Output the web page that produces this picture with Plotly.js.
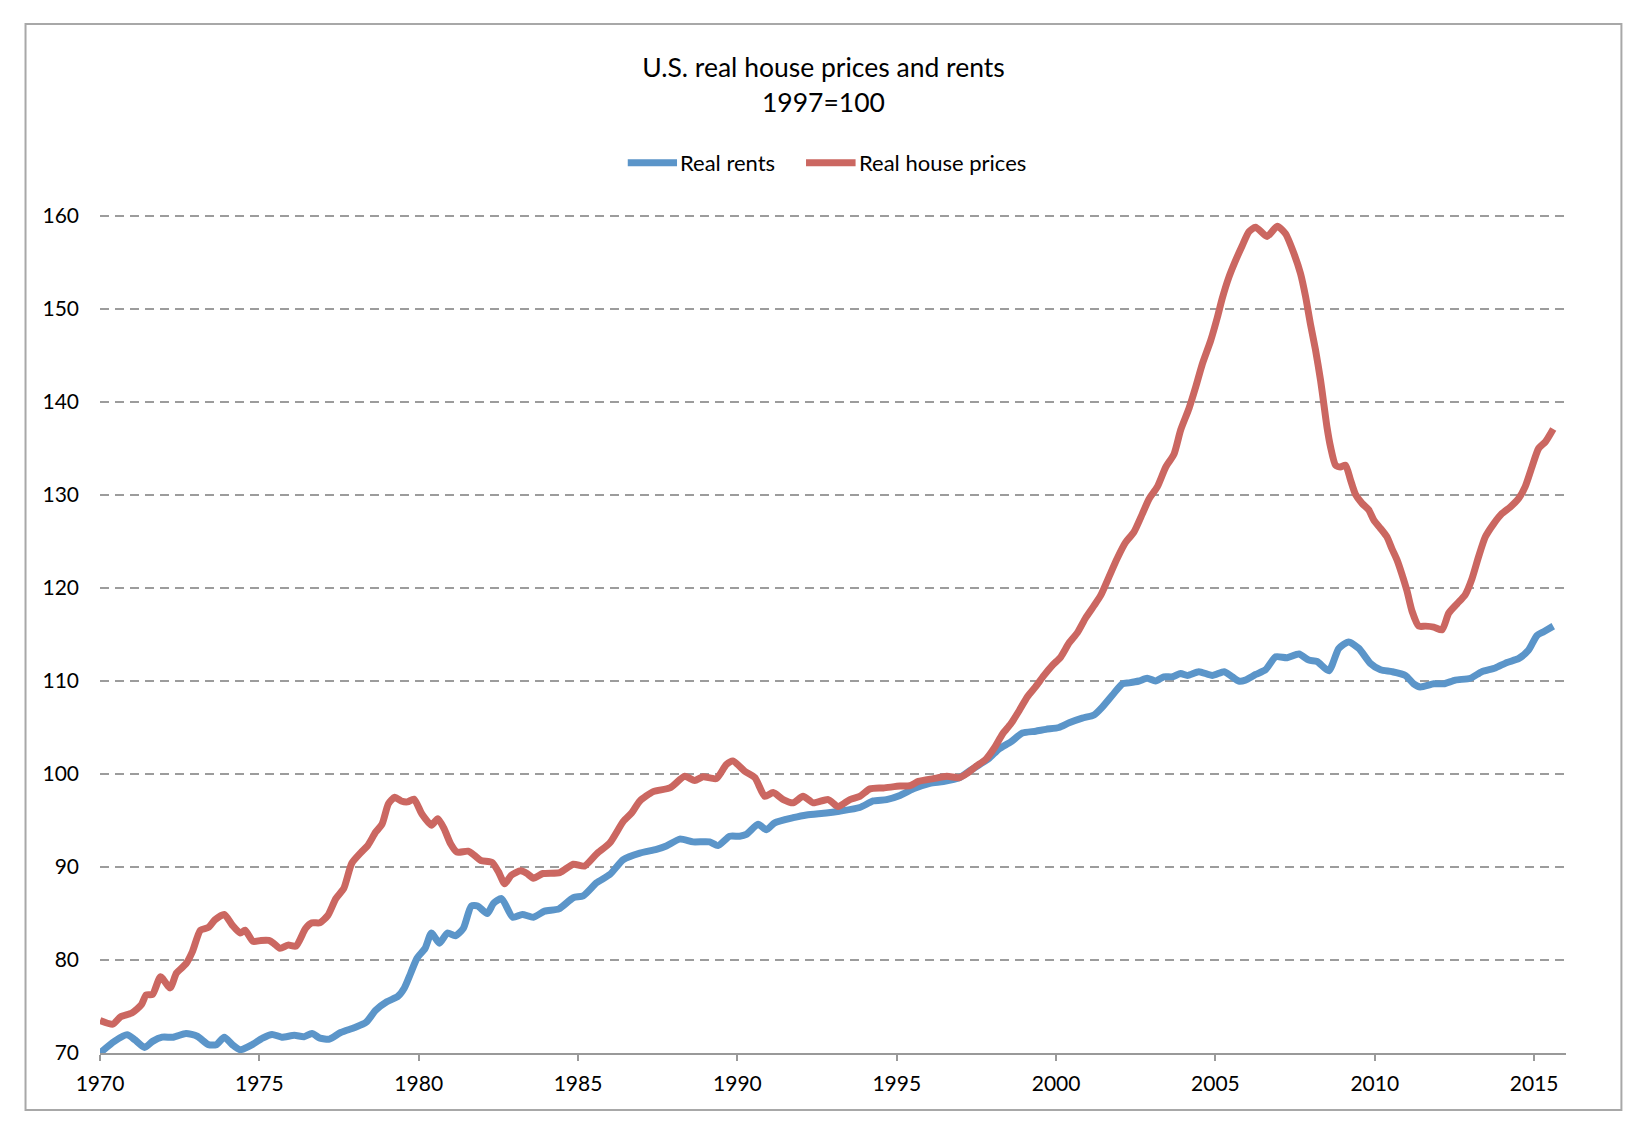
<!DOCTYPE html>
<html>
<head>
<meta charset="utf-8">
<script src="https://cdn.plot.ly/plotly-3.0.1.min.js"></script>
<style>
  html, body { margin: 0; padding: 0; background: #ffffff; }
  #chart { width: 1646px; height: 1128px; }
</style>
</head>
<body>
<div id="chart"></div>
<script>
// ---- Data ----
const xTickVals = [1970, 1975, 1980, 1985, 1990, 1995, 2000, 2005, 2010, 2015];
const xTickText = ["1970", "1975", "1980", "1985", "1990", "1995", "2000", "2005", "2010", "2015"];
const yMin = 70;
const yMax = 160;
const seriesNames = ["Real rents", "Real house prices"];
const seriesColors = ["#5b95c9", "#cb6761"];

const rentYears = [
  1970.00, 1970.45, 1970.85, 1971.10, 1971.40, 1971.65, 1971.95, 1972.30, 1972.70, 1973.05,
  1973.40, 1973.65, 1973.90, 1974.15, 1974.40, 1974.80, 1975.10, 1975.40, 1975.70, 1976.10,
  1976.40, 1976.65, 1976.90, 1977.20, 1977.55, 1978.00, 1978.35, 1978.65, 1979.00, 1979.35,
  1979.55, 1979.75, 1979.95, 1980.20, 1980.40, 1980.65, 1980.90, 1981.15, 1981.40, 1981.65,
  1981.85, 1982.15, 1982.35, 1982.60, 1982.95, 1983.25, 1983.60, 1983.95, 1984.40, 1984.85,
  1985.16, 1985.58, 1986.00, 1986.42, 1986.94, 1987.46, 1987.77, 1988.19, 1988.61, 1989.13,
  1989.39, 1989.76, 1990.07, 1990.28, 1990.65, 1990.91, 1991.17, 1991.75, 1992.17, 1992.79,
  1993.20, 1993.84, 1994.26, 1994.68, 1995.10, 1995.52, 1996.04, 1996.46, 1996.96, 1997.27,
  1997.59, 1997.90, 1998.21, 1998.58, 1998.94, 1999.36, 1999.68, 2000.09, 2000.41, 2000.82,
  2001.19, 2001.45, 2001.77, 2002.08, 2002.29, 2002.60, 2002.86, 2003.12, 2003.38, 2003.65,
  2003.91, 2004.12, 2004.48, 2004.90, 2005.27, 2005.47, 2005.73, 2005.94, 2006.26, 2006.57,
  2006.89, 2007.25, 2007.62, 2007.93, 2008.19, 2008.56, 2008.87, 2009.18, 2009.50, 2009.86,
  2010.18, 2010.54, 2010.96, 2011.22, 2011.43, 2011.85, 2012.16, 2012.53, 2013.00, 2013.36,
  2013.78, 2014.15, 2014.51, 2014.82, 2015.09, 2015.30, 2015.60
];
const rentValues = [
  70.0, 71.25, 71.95, 71.4, 70.6, 71.25, 71.7, 71.7, 72.1, 71.8,
  70.9, 70.9, 71.7, 70.9, 70.35, 70.95, 71.6, 72.0, 71.7, 71.9,
  71.75, 72.1, 71.6, 71.5, 72.2, 72.75, 73.3, 74.6, 75.5, 76.1,
  77.0, 78.6, 80.2, 81.25, 82.9, 81.8, 82.9, 82.6, 83.4, 85.8,
  85.8, 85.0, 86.1, 86.6, 84.6, 84.9, 84.6, 85.25, 85.5, 86.7,
  86.9, 88.3, 89.2, 90.8, 91.5, 91.9, 92.25, 93.0, 92.7, 92.7,
  92.3, 93.3, 93.3, 93.5, 94.6, 94.0, 94.75, 95.3, 95.6, 95.8,
  96.0, 96.4, 97.1, 97.25, 97.7, 98.4, 99.0, 99.2, 99.6, 100.3,
  101.0, 101.7, 102.7, 103.45, 104.4, 104.6, 104.8, 105.0, 105.5, 106.0,
  106.35, 107.2, 108.5, 109.7, 109.8, 110.0, 110.3, 110.0, 110.45, 110.45,
  110.8, 110.6, 111.0, 110.6, 111.0, 110.6, 110.0, 110.1, 110.7, 111.2,
  112.6, 112.5, 112.9, 112.25, 112.1, 111.1, 113.5, 114.2, 113.5, 111.9,
  111.2, 111.0, 110.6, 109.7, 109.35, 109.7, 109.7, 110.1, 110.3, 111.0,
  111.4, 112.0, 112.4, 113.3, 114.9, 115.3, 115.9
];

const priceYears = [
  1970.00, 1970.40, 1970.65, 1971.00, 1971.30, 1971.45, 1971.65, 1971.90, 1972.20, 1972.40,
  1972.70, 1972.90, 1973.15, 1973.40, 1973.60, 1973.90, 1974.15, 1974.40, 1974.55, 1974.80,
  1975.05, 1975.30, 1975.45, 1975.65, 1975.90, 1976.15, 1976.45, 1976.65, 1976.90, 1977.15,
  1977.40, 1977.65, 1977.90, 1978.20, 1978.40, 1978.65, 1978.85, 1979.05, 1979.25, 1979.45,
  1979.65, 1979.85, 1980.10, 1980.40, 1980.60, 1980.80, 1981.00, 1981.20, 1981.55, 1981.75,
  1981.95, 1982.30, 1982.50, 1982.70, 1982.90, 1983.20, 1983.40, 1983.60, 1983.90, 1984.43,
  1984.85, 1985.20, 1985.58, 1986.00, 1986.42, 1986.68, 1986.94, 1987.36, 1987.88, 1988.35,
  1988.66, 1988.92, 1989.34, 1989.65, 1989.86, 1990.23, 1990.55, 1990.86, 1991.12, 1991.44,
  1991.75, 1992.06, 1992.38, 1992.85, 1993.16, 1993.53, 1993.84, 1994.16, 1994.58, 1995.10,
  1995.42, 1995.68, 1996.15, 1996.57, 1996.96, 1997.22, 1997.48, 1997.80, 1998.06, 1998.32,
  1998.58, 1998.84, 1999.10, 1999.36, 1999.62, 1999.89, 2000.15, 2000.41, 2000.67, 2000.93,
  2001.19, 2001.40, 2001.66, 2001.92, 2002.18, 2002.44, 2002.71, 2002.92, 2003.18, 2003.44,
  2003.70, 2003.91, 2004.17, 2004.38, 2004.59, 2004.85, 2005.06, 2005.21, 2005.42, 2005.63,
  2005.84, 2006.05, 2006.26, 2006.62, 2006.94, 2007.20, 2007.46, 2007.67, 2007.83, 2007.98,
  2008.14, 2008.30, 2008.40, 2008.50, 2008.61, 2008.77, 2008.92, 2009.08, 2009.24, 2009.39,
  2009.60, 2009.81, 2009.97, 2010.18, 2010.38, 2010.54, 2010.70, 2010.85, 2011.01, 2011.17,
  2011.38, 2011.59, 2011.85, 2012.11, 2012.32, 2012.58, 2012.84, 2013.05, 2013.26, 2013.47,
  2013.73, 2013.99, 2014.25, 2014.51, 2014.72, 2014.93, 2015.14, 2015.35, 2015.60
];
const priceValues = [
  73.5, 73.1, 73.9, 74.3, 75.2, 76.25, 76.3, 78.2, 77.0, 78.6,
  79.6, 80.9, 83.2, 83.5, 84.3, 84.9, 83.75, 82.9, 83.2, 82.0,
  82.1, 82.1, 81.8, 81.25, 81.6, 81.5, 83.4, 84.0, 84.0, 84.8,
  86.6, 87.7, 90.4, 91.6, 92.3, 93.75, 94.6, 96.8, 97.5, 97.1,
  97.0, 97.3, 95.7, 94.5, 95.2, 94.1, 92.5, 91.6, 91.7, 91.25,
  90.7, 90.5, 89.5, 88.2, 89.1, 89.6, 89.3, 88.8, 89.3, 89.4,
  90.3, 90.1, 91.4, 92.6, 94.9, 95.8, 97.1, 98.1, 98.5, 99.75,
  99.3, 99.7, 99.5, 101.0, 101.4, 100.3, 99.6, 97.6, 98.0, 97.25,
  96.9, 97.6, 96.9, 97.25, 96.5, 97.25, 97.6, 98.4, 98.5, 98.7,
  98.75, 99.2, 99.5, 99.75, 99.6, 100.1, 100.8, 101.6, 102.8, 104.3,
  105.4, 106.8, 108.3, 109.4, 110.6, 111.7, 112.6, 114.1, 115.2, 116.8,
  118.1, 119.2, 121.2, 123.2, 124.9, 126.0, 128.0, 129.6, 130.9, 133.0,
  134.4, 137.0, 139.3, 141.6, 144.1, 146.6, 149.1, 151.1, 153.4, 155.2,
  156.8, 158.3, 158.8, 157.8, 158.9, 158.1, 156.0, 153.8, 151.3, 148.4,
  145.6, 142.3, 139.8, 137.3, 135.2, 133.2, 133.0, 133.2, 131.6, 130.1,
  129.1, 128.4, 127.3, 126.4, 125.5, 124.2, 123.0, 121.5, 119.7, 117.5,
  115.9, 115.9, 115.8, 115.5, 117.3, 118.3, 119.3, 121.0, 123.4, 125.5,
  126.9, 128.0, 128.7, 129.6, 130.9, 133.0, 135.0, 135.7, 137.1
];

// ---- Chart ----
const FONT = "Lato, 'Open Sans', 'Liberation Sans', sans-serif";
const GRID_COLOR = "#9c9c9c";
const GRID_DASH = "9px,6px";

const traces = [
  {
    type: "scatter", mode: "lines", name: seriesNames[0],
    x: rentYears, y: rentValues, showlegend: false,
    line: { color: seriesColors[0], width: 7, shape: "spline", smoothing: 0.6 }
  },
  {
    type: "scatter", mode: "lines", name: seriesNames[1],
    x: priceYears, y: priceValues, showlegend: false,
    line: { color: seriesColors[1], width: 7, shape: "spline", smoothing: 0.6 }
  }
];

// Legend drawn as line swatches + text (Excel-style long swatch right next to label)
const legendY = 1.0637;
const legendItems = [
  { x0: 0.3600, x1: 0.3936, tx: 0.3952 },
  { x0: 0.4816, x1: 0.5154, tx: 0.5170 }
];
const legendShapes = legendItems.map((it, i) => ({
  type: "line", xref: "paper", yref: "paper",
  x0: it.x0, x1: it.x1, y0: legendY, y1: legendY,
  line: { color: seriesColors[i], width: 7 }
}));
const legendAnnotations = legendItems.map((it, i) => ({
  xref: "paper", yref: "paper", x: it.tx, y: legendY,
  xanchor: "left", yanchor: "middle", showarrow: false,
  text: seriesNames[i], borderpad: 0,
  font: { family: FONT, size: 22, color: "#000000" }
}));

const layout = {
  width: 1646, height: 1128,
  paper_bgcolor: "#ffffff", plot_bgcolor: "#ffffff",
  margin: { l: 100, r: 80, t: 216, b: 75, pad: 0 },
  font: { family: FONT, size: 21, color: "#000000" },
  title: {
    text: "U.S. real house prices and rents<br>1997=100",
    font: { family: FONT, size: 26.5, color: "#000000" },
    xref: "container", x: 0.5003, xanchor: "center",
    yref: "container", y: 0.9315, yanchor: "middle"
  },
  showlegend: false,
  xaxis: {
    range: [1970, 2016], tickmode: "array", tickvals: xTickVals, ticktext: xTickText,
    ticks: "outside", ticklen: 6, tickwidth: 2, tickcolor: "#999999",
    showline: true, linecolor: "#999999", linewidth: 2,
    showgrid: false, zeroline: false, ticklabelstandoff: 5,
    tickfont: { family: FONT, size: 21, color: "#000000" }
  },
  yaxis: {
    range: [yMin, yMax], tick0: yMin, dtick: 10,
    showgrid: true, gridcolor: GRID_COLOR, gridwidth: 2, griddash: GRID_DASH,
    showline: false, zeroline: false, ticks: "", ticklabelstandoff: 20,
    tickfont: { family: FONT, size: 21, color: "#000000" }
  },
  shapes: [
    {
      type: "rect", xref: "paper", yref: "paper",
      x0: -0.0508, x1: 1.0378, y0: -0.0681, y1: 1.2294,
      line: { color: "#a8a8a8", width: 2 }, fillcolor: "rgba(0,0,0,0)", layer: "below"
    },
    {
      // top gridline at the axis maximum (paper y = 1 is yMax; Plotly omits gridlines on the plot edge)
      type: "line", xref: "paper", yref: "paper", x0: 0, x1: 1, y0: 1, y1: 1,
      line: { color: GRID_COLOR, width: 2, dash: GRID_DASH }, layer: "below"
    }
  ].concat(legendShapes),
  annotations: legendAnnotations
};

Plotly.newPlot("chart", traces, layout, { displayModeBar: false, responsive: false });
</script>
</body>
</html>
